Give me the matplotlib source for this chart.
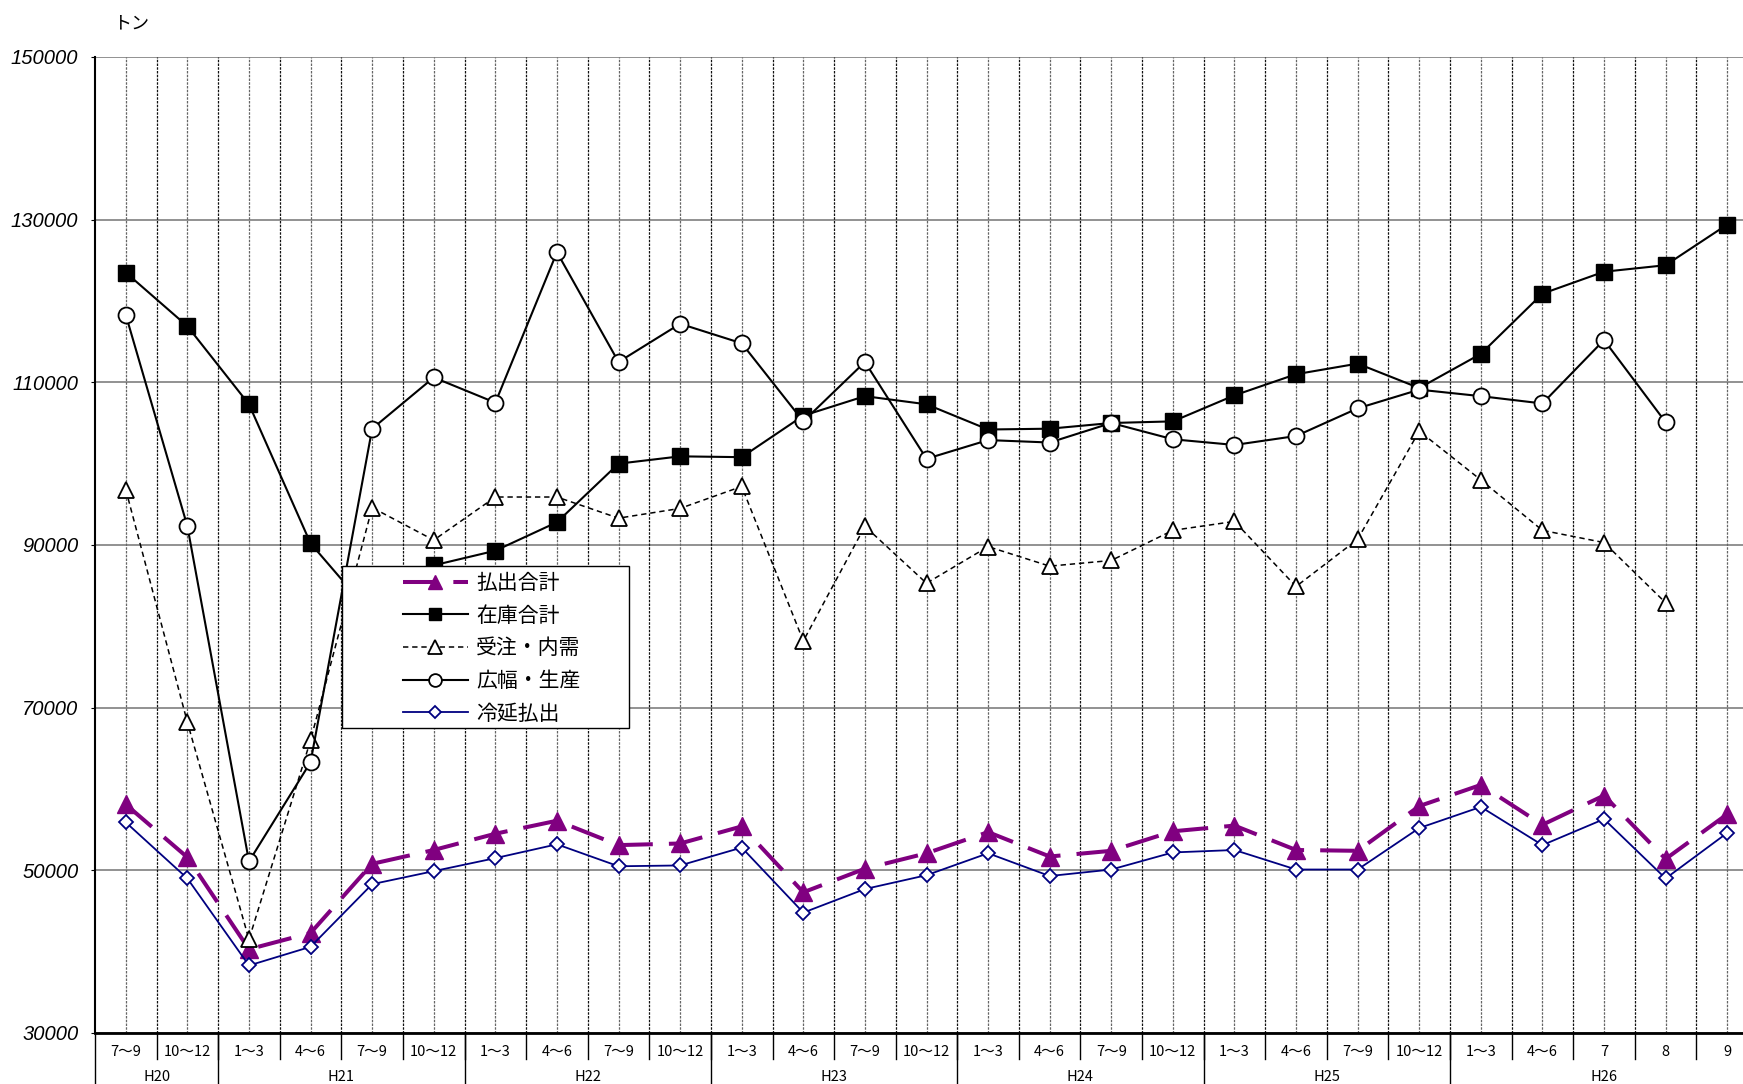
import numpy as np
import matplotlib
matplotlib.use('Agg')
import matplotlib.pyplot as plt
from matplotlib.patches import Rectangle
from matplotlib.transforms import offset_copy

plt.rcParams['font.family'] = ['Noto Sans CJK JP', 'DejaVu Sans']

# categories (quarters / months) and fiscal-year groups
quarter_labels = ['7～9', '10～12',
                  '1～3', '4～6', '7～9', '10～12',
                  '1～3', '4～6', '7～9', '10～12',
                  '1～3', '4～6', '7～9', '10～12',
                  '1～3', '4～6', '7～9', '10～12',
                  '1～3', '4～6', '7～9', '10～12',
                  '1～3', '4～6', '7', '8', '9']
years = ['H20', 'H21', 'H22', 'H23', 'H24', 'H25', 'H26']
year_sizes = [2, 4, 4, 4, 4, 4, 5]

# series values (tons)
shipments_total = [58100, 51600, 40300, 42300, 50800, 52500, 54500, 56100, 53100, 53300,
                   55400, 47300, 50200, 52100, 54700, 51700, 52400, 54800, 55500, 52500,
                   52400, 57900, 60500, 55600, 59200, 51400, 56900]
inventory_total = [123500, 116900, 107300, 90200, 81400, 87500, 89300, 92800, 100000, 100900,
                   100800, 105900, 108300, 107300, 104200, 104300, 105000, 105200, 108400, 111000,
                   112300, 109300, 113500, 120900, 123600, 124400, 129400]
orders_domestic = [96800, 68200, 41500, 66000, 94600, 90600, 95900, 95900, 93300, 94500,
                   97200, 78200, 92300, 85300, 89800, 87400, 88100, 91800, 92900, 84900,
                   90700, 104000, 98000, 91800, 90300, 82900, np.nan]
wide_production = [118300, 92300, 51100, 63300, 104300, 110600, 107500, 126000, 112500, 117200,
                   114800, 105200, 112500, 100600, 102900, 102600, 105000, 103000, 102300, 103400,
                   106800, 109100, 108300, 107400, 115200, 105100, np.nan]
cold_rolled = [55900, 49000, 38300, 40600, 48300, 49900, 51500, 53200, 50500, 50600,
               52800, 44800, 47700, 49400, 52100, 49300, 50100, 52200, 52500, 50100,
               50100, 55200, 57800, 53100, 56300, 49000, 54600]

W, H = 1743, 1084
fig = plt.figure(figsize=(W / 100, H / 100), dpi=100)
# axes: left 95px, bottom 1033px, top 57px; last category runs past the right edge
ax = fig.add_axes([95 / W, (H - 1033) / H, (1758 - 95) / W, (1033 - 57) / H])

n = len(quarter_labels)
x = np.arange(n)
ax.set_xlim(-0.5, n - 0.5)
ax.set_ylim(30000, 150000)

# vertical dotted lines at centers and boundaries
for i in range(n):
    ax.axvline(i, color='#666666', ls=(0, (2, 1)), lw=0.9, zorder=1)
    ax.axvline(i + 0.5, color='#111111', ls=(0, (2, 1)), lw=0.9, zorder=1)

ax.set_yticks(np.arange(30000, 150001, 20000))
ax.grid(axis='y', color='#7f7f7f', lw=1.2, zorder=1)
ax.set_axisbelow(True)
ax.set_xticks([])
ax.tick_params(axis='y', length=3, pad=9)
for lab in ax.get_yticklabels():
    lab.set_family(['Liberation Sans', 'DejaVu Sans'])
    lab.set_fontstyle('italic')
    lab.set_fontsize(14.5)

for s in ['top', 'right']:
    ax.spines[s].set_visible(False)
ax.spines['left'].set_linewidth(1.5)
ax.spines['bottom'].set_linewidth(2)

# series
l1, = ax.plot(x, shipments_total, color='#800080', lw=2.9, dashes=(8.5, 4), marker='^', ms=13,
              mfc='#800080', mec='#800080', zorder=3, label='払出合計')
l2, = ax.plot(x, inventory_total, color='black', lw=1.5, marker='s', ms=11,
              mfc='black', mec='black', zorder=4, label='在庫合計')
l3, = ax.plot(x, orders_domestic, color='black', lw=1.1, ls=(0, (3.5, 2.5)), marker='^', ms=12,
              mfc='white', mec='black', mew=1.3, zorder=5, label='受注・内需')
l4, = ax.plot(x, wide_production, color='black', lw=1.5, marker='o', ms=11.5,
              mfc='white', mec='black', mew=1.3, zorder=6, label='広幅・生産')
l5, = ax.plot(x, cold_rolled, color='#000080', lw=1.3, marker='D', ms=7.5,
              mfc='white', mec='#000080', mew=1.3, zorder=7, label='冷延払出')

# category labels and separators below the axis
xtr = ax.get_xaxis_transform()
cat_tr = offset_copy(xtr, fig=fig, y=-18.7, units='dots')
yr_tr = offset_copy(xtr, fig=fig, y=-43.7, units='dots')
for i, lab in enumerate(quarter_labels):
    ax.text(i, 0, lab, transform=cat_tr, ha='center', va='center', fontsize=10.5)
    ax.plot([i + 0.5, i + 0.5], [0, -26 / 976], transform=xtr, color='black', lw=1, clip_on=False)

start = 0
for yr, size in zip(years, year_sizes):
    ax.plot([start - 0.5, start - 0.5], [0, -60 / 976], transform=xtr, color='black', lw=1, clip_on=False)
    ax.text(start + (size - 1) / 2, 0, yr, transform=yr_tr, ha='center', va='center', fontsize=10.5)
    start += size

fig.text(131 / W, 1 - 23 / H, 'トン', ha='center', va='center', fontsize=13)

# legend box
box = Rectangle((341.7 / W, 1 - 727.7 / H), 287.6 / W, 162 / H, transform=fig.transFigure,
                facecolor='white', edgecolor='black', lw=1, zorder=10)
fig.add_artist(box)
leg = fig.legend(handles=[l1, l2, l3, l4, l5], loc='upper left',
                 bbox_to_anchor=(403 / W, 1 - 572 / H), frameon=False, fontsize=15,
                 borderpad=0, borderaxespad=0, handlelength=3.1, handletextpad=0.42,
                 labelspacing=0.51, numpoints=1, markerscale=0.8)
leg.set_zorder(11)

fig.savefig('out.png', dpi=100)
